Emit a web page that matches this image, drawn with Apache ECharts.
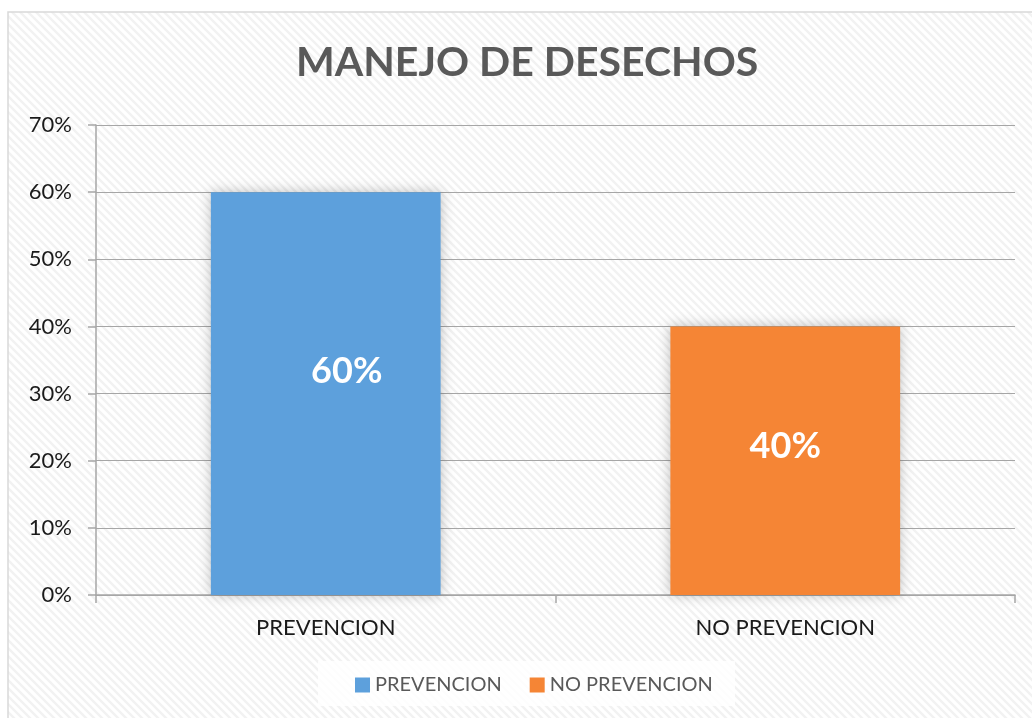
<!DOCTYPE html>
<html>
<head>
<meta charset="utf-8">
<script src="https://cdn.jsdelivr.net/npm/echarts@6/dist/echarts.min.js"></script>
<style>
  html, body { margin: 0; padding: 0; background: #fff; }
  #chart { width: 1032px; height: 718px; }
</style>
</head>
<body>
<div id="chart"></div>
<script>
var categories = ['PREVENCION', 'NO PREVENCION'];
var prevencion = [60, '-'];
var noPrevencion = ['-', 40];
var yTicks = [0, 10, 20, 30, 40, 50, 60, 70];

// diagonal stripes for the chart area background
var stripe = document.createElement('canvas');
stripe.width = 8;
stripe.height = 8;
var ctx = stripe.getContext('2d');
ctx.fillStyle = '#ffffff';
ctx.fillRect(0, 0, 8, 8);
ctx.strokeStyle = '#f2f2f2';
ctx.lineWidth = 2.5;
ctx.beginPath();
ctx.moveTo(-2, -2); ctx.lineTo(10, 10);
ctx.moveTo(-2, 6); ctx.lineTo(2, 10);
ctx.moveTo(6, -2); ctx.lineTo(10, 2);
ctx.stroke();

var myChart = echarts.init(document.getElementById('chart'));

var font = 'Lato, "Open Sans", sans-serif';

option = {
    backgroundColor: '#ffffff',
    textStyle: { fontFamily: font },
    graphic: [
        {
            type: 'rect',
            z: -10,
            shape: { x: 8, y: 12, width: 1030, height: 712 },
            style: { fill: { image: stripe, repeat: 'repeat' }, stroke: '#d9d9d9', lineWidth: 1.5 }
        },
        {
            type: 'rect',
            z: -9,
            shape: { x: 318, y: 661, width: 417, height: 45 },
            style: { fill: 'rgba(255,255,255,0.85)' }
        }
    ],
    title: {
        text: 'MANEJO DE DESECHOS',
        left: 291,
        top: 37,
        textStyle: { fontFamily: font, fontSize: 41, fontWeight: 'bold', color: '#595959' }
    },
    legend: {
        bottom: 18,
        left: 350,
        itemWidth: 15,
        itemHeight: 15,
        itemGap: 28,
        icon: 'rect',
        textStyle: { fontFamily: font, fontSize: 20, color: '#595959' },
        data: categories
    },
    grid: { left: 96, right: 17, top: 125, bottom: 123 },
    xAxis: {
        type: 'category',
        data: categories,
        axisLine: { lineStyle: { color: '#a6a6a6', width: 1.5 } },
        axisTick: { show: true, length: 8, lineStyle: { color: '#a6a6a6', width: 1.5 } },
        axisLabel: { fontFamily: font, fontSize: 22, color: '#1a1a1a', margin: 22 }
    },
    yAxis: {
        type: 'value',
        min: yTicks[0],
        max: yTicks[yTicks.length - 1],
        interval: 10,
        axisLine: { show: true, lineStyle: { color: '#a6a6a6', width: 1.5 } },
        axisTick: { show: true, length: 8, lineStyle: { color: '#a6a6a6', width: 1.5 } },
        splitLine: { lineStyle: { color: '#a6a6a6', width: 1 } },
        axisLabel: { fontFamily: font, fontSize: 22, color: '#1a1a1a', margin: 24, formatter: '{value}%' }
    },
    series: [
        {
            name: categories[0],
            type: 'bar',
            stack: 'total',
            barWidth: '50%',
            data: prevencion,
            itemStyle: { color: '#5da0dc', shadowBlur: 12, shadowColor: 'rgba(0,0,0,0.25)' },
            label: {
                show: true, position: 'inside', offset: [21, -22],
                formatter: '{c}%', color: '#ffffff', fontFamily: font, fontSize: 36, fontWeight: 'bold'
            }
        },
        {
            name: categories[1],
            type: 'bar',
            stack: 'total',
            barWidth: '50%',
            data: noPrevencion,
            itemStyle: { color: '#f58535', shadowBlur: 12, shadowColor: 'rgba(0,0,0,0.25)' },
            label: {
                show: true, position: 'inside', offset: [0, -14],
                formatter: '{c}%', color: '#ffffff', fontFamily: font, fontSize: 36, fontWeight: 'bold'
            }
        }
    ]
};

myChart.setOption(option);
</script>
</body>
</html>
